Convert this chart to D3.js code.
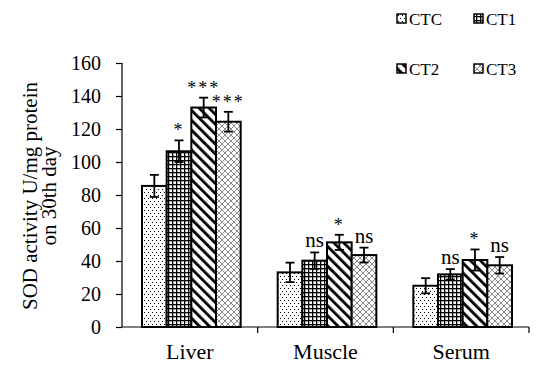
<!DOCTYPE html>
<html><head><meta charset="utf-8">
<script src="https://cdn.jsdelivr.net/npm/d3@7"></script>
<style>body{margin:0;background:#fff}svg{display:block}svg text{font-family:"Liberation Serif","DejaVu Serif",serif !important;fill:#000}</style>
</head><body>
<svg id="c" width="538" height="365"></svg>
<script>
const categories = ["Liver", "Muscle", "Serum"];
const series = ["CTC", "CT1", "CT2", "CT3"];
const values = {
  CTC: [85.5, 33.1, 25.0],
  CT1: [106.5, 40.2, 31.9],
  CT2: [133.0, 51.3, 40.6],
  CT3: [124.4, 43.6, 37.4]
};
const errors = {
  CTC: [6.7, 5.9, 4.6],
  CT1: [6.6, 5.0, 3.2],
  CT2: [6.0, 4.6, 6.4],
  CT3: [6.0, 4.5, 5.0]
};
const marks = {
  CTC: ["", "", ""],
  CT1: ["*", "ns", "ns"],
  CT2: ["***", "*", "*"],
  CT3: ["***", "ns", "ns"]
};
const yTicks = [0, 20, 40, 60, 80, 100, 120, 140, 160];
const FONT = '"Liberation Serif","DejaVu Serif",serif';

const svg = d3.select("#c");
const defs = svg.append("defs");
// patterns
const pDot = defs.append("pattern").attr("id","p0").attr("patternUnits","userSpaceOnUse").attr("width",4).attr("height",6);
pDot.append("rect").attr("width",4).attr("height",6).attr("fill","#fff");
pDot.append("rect").attr("x",0).attr("y",0).attr("width",1).attr("height",1).attr("fill","#000");
pDot.append("rect").attr("x",2).attr("y",3).attr("width",1).attr("height",1).attr("fill","#000");
const pGrid = defs.append("pattern").attr("id","p1").attr("patternUnits","userSpaceOnUse").attr("width",4).attr("height",4);
pGrid.append("rect").attr("width",4).attr("height",4).attr("fill","#fff");
pGrid.append("rect").attr("x",0).attr("y",0).attr("width",4).attr("height",1.3).attr("fill","#000");
pGrid.append("rect").attr("x",0).attr("y",0).attr("width",1.3).attr("height",4).attr("fill","#000");
const pDiag = defs.append("pattern").attr("id","p2").attr("patternUnits","userSpaceOnUse").attr("width",7).attr("height",7).attr("patternTransform","rotate(-45)");
pDiag.append("rect").attr("width",7).attr("height",7).attr("fill","#fff");
pDiag.append("rect").attr("x",0).attr("y",0).attr("width",2.8).attr("height",7).attr("fill","#000");
const pCross = defs.append("pattern").attr("id","p3").attr("patternUnits","userSpaceOnUse").attr("width",6).attr("height",6);
pCross.append("rect").attr("width",6).attr("height",6).attr("fill","#fff");
pCross.append("path").attr("d","M0,0L6,6M6,0L0,6M-1,5L1,7M5,-1L7,1M-1,1L1,-1M5,7L7,5").attr("stroke","#8a8a8a").attr("stroke-width",1);
const fills = {CTC:"url(#p0)", CT1:"url(#p1)", CT2:"url(#p2)", CT3:"url(#p3)"};

const x0 = d3.scaleBand().domain(categories).range([122, 529]);
const x1 = d3.scaleBand().domain(series).range([20, x0.bandwidth() - 17]);
const y = d3.scaleLinear().domain([0, 160]).range([327, 63]);

// bars
const g = svg.append("g");
categories.forEach((c, i) => {
  series.forEach(s => {
    const bx = x0(c) + x1(s);
    const v = values[s][i];
    g.append("rect").attr("x", bx).attr("y", y(v)).attr("width", x1.bandwidth()).attr("height", y(0) - y(v))
      .attr("fill", fills[s]).attr("stroke", "#000").attr("stroke-width", 2);
  });
});
// error bars
categories.forEach((c, i) => {
  series.forEach(s => {
    const cx = x0(c) + x1(s) + x1.bandwidth() / 2;
    const v = values[s][i], e = errors[s][i];
    const eg = g.append("g").attr("stroke", "#000").attr("stroke-width", 1.8);
    eg.append("line").attr("x1", cx).attr("x2", cx).attr("y1", y(v + e)).attr("y2", y(v - e));
    eg.append("line").attr("x1", cx - 4.5).attr("x2", cx + 4.5).attr("y1", y(v + e)).attr("y2", y(v + e));
    eg.append("line").attr("x1", cx - 4.5).attr("x2", cx + 4.5).attr("y1", y(v - e)).attr("y2", y(v - e));
    const m = marks[s][i];
    if (m) {
      const isStar = m.indexOf("*") >= 0;
      g.append("text").attr("x", cx).attr("y", y(v + e) - (isStar ? 4 : 5))
        .attr("text-anchor", "middle").style("font-size", (isStar ? 18 : 21) + "px")
        .style("font-family", FONT)
        .attr("letter-spacing", isStar ? 2 : 0)
        .text(m);
    }
  });
});

// y axis
const yAxis = svg.append("g").attr("transform", "translate(122,0)")
  .call(d3.axisLeft(y).tickValues(yTicks).tickSize(6).tickPadding(15));
yAxis.attr("font-family", null).attr("font-size", null);
yAxis.select(".domain").attr("stroke", "#000").attr("stroke-width", 1.2).attr("d", "M-6,63.5H0V327");
yAxis.selectAll(".tick line").attr("stroke", "#000").attr("stroke-width", 1.2);
yAxis.selectAll(".tick text").style("font-size", "20px").style("font-family", FONT).attr("fill", "#000");

// x axis
const xAxis = svg.append("g").attr("transform", "translate(0,327)");
xAxis.append("line").attr("x1", 122).attr("x2", 529).attr("y1", 0).attr("y2", 0).attr("stroke", "#000").attr("stroke-width", 1.2);
categories.forEach(c => {
  xAxis.append("line").attr("x1", x0(c) + x0.bandwidth()).attr("x2", x0(c) + x0.bandwidth()).attr("y1", 0).attr("y2", 6).attr("stroke", "#000").attr("stroke-width", 1.2);
  xAxis.append("text").attr("x", x0(c) + x0.bandwidth() / 2).attr("y", 32).attr("text-anchor", "middle")
    .style("font-size", "22px").style("font-family", FONT).text(c);
});

// y title
const yt = svg.append("text").attr("transform", "translate(30,196) rotate(-90)").attr("text-anchor", "middle")
  .style("font-size", "21px").style("font-family", FONT);
yt.append("tspan").attr("x", 0).attr("y", 7).text("SOD activity U/mg protein");
yt.append("tspan").attr("x", 0).attr("y", 26).text("on 30th day");

// legend
const legPos = [[397, 19], [474, 19], [397, 69], [474, 69]];
series.forEach((s, i) => {
  const [lx, ly] = legPos[i];
  svg.append("rect").attr("x", lx).attr("y", ly - 5).attr("width", 9).attr("height", 9)
    .attr("fill", fills[s]).attr("stroke", "#000").attr("stroke-width", 1.5);
  svg.append("text").attr("x", lx + 12).attr("y", ly + 6).style("font-size", "17px").style("font-family", FONT).text(s);
});
</script>
</body></html>
